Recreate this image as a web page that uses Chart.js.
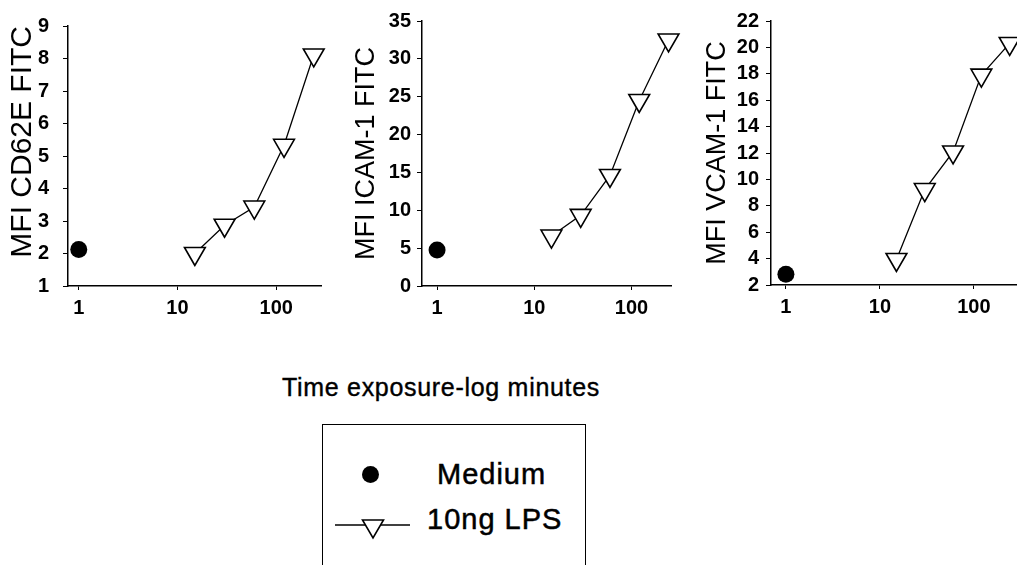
<!DOCTYPE html>
<html>
<head>
<meta charset="utf-8">
<script src="https://cdn.jsdelivr.net/npm/chart.js@4/dist/chart.umd.min.js"></script>
<style>
  html, body { margin: 0; padding: 0; background: #fff; }
  body { width: 1017px; height: 565px; overflow: hidden; position: relative; font-family: 'Liberation Sans', Arial, sans-serif; color: #000; }
  canvas.panel { position: absolute; top: 0; }
  #xTitle { position: absolute; left: 241px; top: 372px; width: 400px; text-align: center; font-size: 25px; line-height: 30px; letter-spacing: 0.7px; -webkit-text-stroke: 0.4px #000; }
  #legend { position: absolute; left: 322px; top: 424px; width: 262px; height: 160px; border: 1.5px solid #000; }
  .legend-text { position: absolute; font-size: 29px; line-height: 34px; letter-spacing: 1px; white-space: nowrap; -webkit-text-stroke: 0.5px #000; }
  #dot { position: absolute; left: 362px; top: 466px; width: 17px; height: 17px; border-radius: 50%; background: #000; }
  #lpsSymbol { position: absolute; left: 330px; top: 505px; }
</style>
</head>
<body>
<canvas id="cd62e" class="panel" width="335" height="330" style="left:0px"></canvas>
<canvas id="icam1" class="panel" width="345" height="330" style="left:340px"></canvas>
<canvas id="vcam1" class="panel" width="345" height="330" style="left:690px"></canvas>

<div id="xTitle">Time exposure-log minutes</div>
<div id="legend"></div>
<div id="dot"></div>
<div class="legend-text" style="left:437px; top:457px">Medium</div>
<canvas id="lpsSymbol" width="90" height="40"></canvas>
<div class="legend-text" style="left:427px; top:502px">10ng LPS</div>

<script>
// time points (minutes) for LPS exposure; medium control is plotted at 1
const LPS_TIMES = [15, 30, 60, 120, 240];
const MEDIUM_TIMES = [1];
const X_TICKS = [1, 10, 100];

// MFI values
const CD62E_LPS = [2.0, 2.87, 3.43, 5.33, 8.11];
const CD62E_MEDIUM = [2.12];
const ICAM1_LPS = [6.6, 9.33, 14.6, 24.5, 32.5];
const ICAM1_MEDIUM = [4.75];
const VCAM1_LPS = [3.93, 9.23, 12.08, 17.9, 20.3];
const VCAM1_MEDIUM = [2.82];

Chart.defaults.font.family = "'Liberation Sans', Arial, sans-serif";
Chart.defaults.color = '#000';

function toPoints(xs, ys) {
    return xs.map((x, i) => ({ x: x, y: ys[i] }));
}

function makePanel(id, cfg) {
    new Chart(document.getElementById(id), {
        type: 'line',
        data: {
            datasets: [{
                label: '10ng LPS',
                data: toPoints(LPS_TIMES, cfg.lps),
                borderColor: '#000',
                borderWidth: 1.3,
                pointStyle: 'triangle',
                pointRotation: 180,
                pointRadius: 12,
                pointBackgroundColor: '#fff',
                pointBorderColor: '#000',
                pointBorderWidth: 1.6,
                tension: 0,
                clip: false
            }, {
                label: 'Medium',
                data: toPoints(MEDIUM_TIMES, cfg.medium),
                showLine: false,
                pointStyle: 'circle',
                pointRadius: 8.5,
                pointBackgroundColor: '#000',
                pointBorderColor: '#000',
                pointBorderWidth: 0,
                clip: false
            }]
        },
        options: {
            responsive: false,
            animation: false,
            devicePixelRatio: 1,
            layout: { padding: { top: cfg.top, right: cfg.right, left: 0, bottom: 0 } },
            plugins: {
                legend: { display: false },
                tooltip: { enabled: false }
            },
            scales: {
                x: {
                    type: 'logarithmic',
                    min: cfg.xMin,
                    max: cfg.xMax,
                    afterBuildTicks: scale => { scale.ticks = X_TICKS.map(v => ({ value: v })); },
                    afterFit: scale => { scale.height = cfg.xHeight; },
                    grid: { drawOnChartArea: false, drawTicks: true, tickLength: 4, color: '#000', lineWidth: 1 },
                    border: { color: '#000', width: 1.5 },
                    ticks: {
                        autoSkip: false,
                        maxRotation: 0,
                        padding: 6,
                        font: { size: 20, weight: 'bold' },
                        callback: v => String(v)
                    }
                },
                y: {
                    min: cfg.yMin,
                    max: cfg.yMax,
                    afterFit: scale => { scale.width = cfg.yWidth; },
                    grid: { drawOnChartArea: false, drawTicks: true, tickLength: 5, color: '#000', lineWidth: 1 },
                    border: { color: '#000', width: 1.5 },
                    ticks: {
                        stepSize: cfg.step,
                        autoSkip: false,
                        padding: cfg.tickPad,
                        font: { size: 20, weight: 'bold' }
                    },
                    title: {
                        display: true,
                        text: cfg.title,
                        align: cfg.titleAlign,
                        padding: cfg.titlePad,
                        font: { size: cfg.titleSize, weight: 'normal' }
                    }
                }
            }
        }
    });
}

makePanel('cd62e', {
    lps: CD62E_LPS, medium: CD62E_MEDIUM, title: 'MFI CD62E FITC',
    yMin: 1, yMax: 9, step: 1,
    xMin: 0.778, xMax: 287,
    top: 18, right: 9, yWidth: 68, xHeight: 44,
    tickPad: 14, titlePad: 5, titleSize: 30, titleAlign: 'end'
});

makePanel('icam1', {
    lps: ICAM1_LPS, medium: ICAM1_MEDIUM, title: 'MFI ICAM-1 FITC',
    yMin: 0, yMax: 35, step: 5,
    xMin: 0.724, xMax: 257,
    top: 21, right: 8, yWidth: 82, xHeight: 44,
    tickPad: 6, titlePad: 10, titleSize: 27, titleAlign: 'center'
});

makePanel('vcam1', {
    lps: VCAM1_LPS, medium: VCAM1_MEDIUM, title: 'MFI VCAM-1 FITC',
    yMin: 2, yMax: 22, step: 2,
    xMin: 0.694, xMax: 320,
    top: 21, right: 9, yWidth: 81, xHeight: 45,
    tickPad: 7, titlePad: 11, titleSize: 27, titleAlign: 'center'
});

// legend symbol for the LPS series: line with an open down-pointing triangle
const sym = document.getElementById('lpsSymbol').getContext('2d');
sym.strokeStyle = '#000';
sym.lineWidth = 1.3;
sym.beginPath();
sym.moveTo(5, 20);
sym.lineTo(80, 20);
sym.stroke();
sym.beginPath();
sym.moveTo(32.5, 15);
sym.lineTo(53.5, 15);
sym.lineTo(43, 33);
sym.closePath();
sym.fillStyle = '#fff';
sym.fill();
sym.lineWidth = 1.6;
sym.stroke();
</script>
</body>
</html>
